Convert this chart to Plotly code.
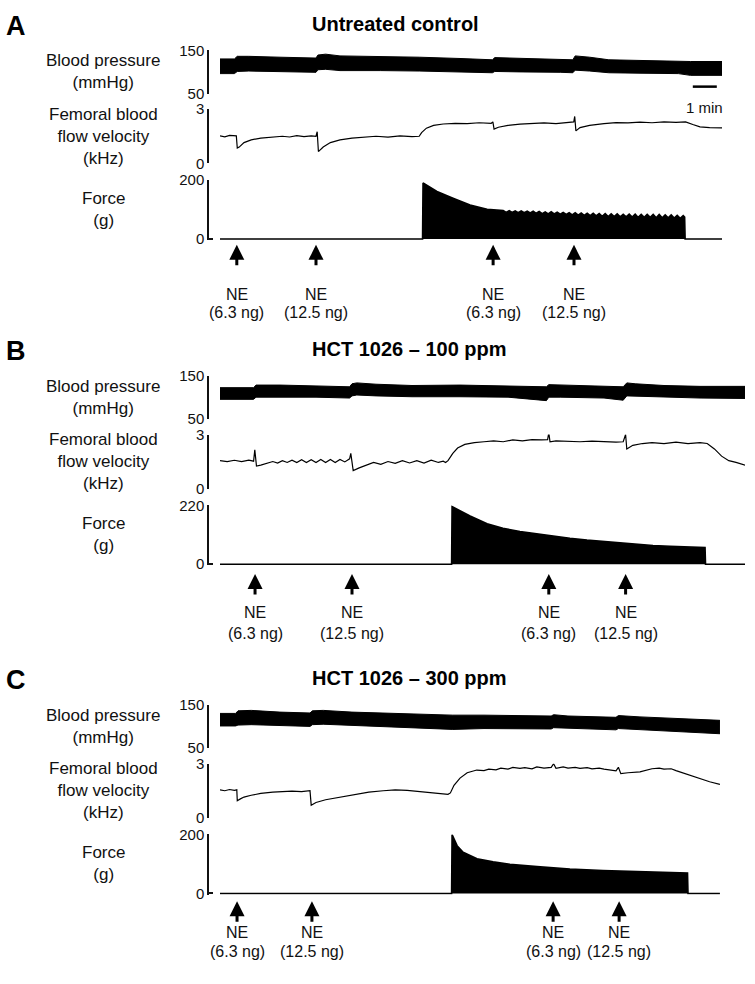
"""
Recorded traces: blood pressure, femoral blood flow velocity and force
three panels (A, B, C), time in minutes
"""
import plotly.graph_objects as go

# ---------------- Panel A: untreated control ----------------
a_bp_t = [0, 0.6, 0.72, 1.2, 2.5, 4.0, 4.08, 4.4, 5.0, 6.7, 8.3, 10.0, 11.35, 11.45,
          12.5, 14.2, 14.7, 14.8, 15.4, 16.2, 17.5, 19.1, 19.6, 20.92]
a_bp_hi = [130, 130, 136, 136, 134, 132, 139, 141, 137, 136, 134, 131, 128, 133,
           131, 129, 128, 137, 134, 128, 126, 125, 124, 124]
a_bp_lo = [96, 96, 101, 102, 101, 99, 105, 106, 103, 103, 102, 100, 98, 101,
           100, 99, 98, 104, 102, 98, 97, 96, 92, 92]

a_fbf_t = [0, 0.2, 0.4, 0.6, 0.68, 0.72, 0.8, 1.0, 1.3, 1.7, 2.2, 2.6, 2.9, 3.2, 3.5, 3.8,
           4.0, 4.05, 4.1, 4.3, 4.6, 5.0, 5.5, 6.0, 6.5, 7.0, 7.5, 8.0, 8.3,
           8.4, 8.6, 8.9, 9.3, 9.8, 10.3, 10.8, 11.3, 11.37, 11.42, 11.6, 12.0, 12.5,
           13.0, 13.5, 14.0, 14.5, 14.74, 14.78, 14.83, 15.0, 15.4, 16.0, 16.5, 17.0,
           17.5, 18.0, 18.5, 19.0, 19.4, 19.7, 20.0, 20.4, 20.92]
a_fbf = [1.52, 1.47, 1.55, 1.5, 1.52, 0.85, 0.9, 1.15, 1.3, 1.4, 1.47, 1.5, 1.46, 1.53, 1.48, 1.52,
         1.5, 1.75, 0.65, 0.9, 1.15, 1.3, 1.4, 1.47, 1.5, 1.45, 1.52, 1.48, 1.5,
         1.7, 1.95, 2.1, 2.18, 2.22, 2.2, 2.25, 2.22, 2.3, 1.9, 2.0, 2.1, 2.17,
         2.2, 2.24, 2.2, 2.27, 2.3, 2.6, 1.8, 1.98, 2.1, 2.2, 2.26, 2.24,
         2.28, 2.25, 2.3, 2.27, 2.3, 2.15, 2.02, 1.98, 1.97]

a_force_t = [0, 8.44, 8.46, 9.04, 9.71, 10.42, 11.13, 11.5,
             11.8, 11.925, 12.05, 12.175, 12.3, 12.425, 12.55, 12.675, 12.8, 12.925,
             13.05, 13.175, 13.3, 13.425, 13.55, 13.675, 13.8, 13.925, 14.05, 14.175,
             14.3, 14.425, 14.55, 14.675, 14.8, 14.925, 15.05, 15.175, 15.3, 15.425,
             15.55, 15.675, 15.8, 15.925, 16.05, 16.175, 16.3, 16.425, 16.55, 16.675,
             16.8, 16.925, 17.05, 17.175, 17.3, 17.425, 17.55, 17.675, 17.8, 17.925,
             18.05, 18.175, 18.3, 18.425, 18.55, 18.675, 18.8, 18.925, 19.05, 19.175,
             19.3, 19.36, 19.38, 20.92]
a_force = [0, 0, 190, 161, 138, 115, 101, 97,
           96, 90, 96, 90, 95, 89, 95, 89, 94, 88,
           94, 87, 93, 86, 92, 85, 92, 85, 91, 84,
           90, 83, 89, 82, 89, 81, 88, 80, 87, 79,
           87, 78, 86, 77, 86, 76, 85, 76, 85, 75,
           84, 75, 84, 74, 84, 73, 83, 73, 83, 73,
           83, 72, 83, 72, 82, 72, 82, 71, 80, 70,
           79, 74, 0, 0]

a_ne_t = [0.7, 4.0, 11.38, 14.75]

# ---------------- Panel B: HCT 1026 - 100 ppm ----------------
b_bp_t = [0, 1.4, 1.5, 2.5, 4.0, 5.4, 5.5, 5.7, 6.5, 8.0, 10.0, 12.0, 13.6, 13.7,
          14.2, 16.0, 16.8, 16.95, 17.3, 18.5, 20.0, 21.88]
b_bp_hi = [122, 122, 128, 128, 126, 124, 131, 133, 130, 127, 128, 126, 124, 129,
           128, 125, 124, 133, 131, 127, 125, 125]
b_bp_lo = [95, 95, 100, 101, 100, 98, 103, 105, 103, 101, 101, 100, 92, 100,
           100, 98, 93, 103, 102, 100, 98, 97]

b_fbf_t = [0, 0.3, 0.6, 0.9, 1.2, 1.4, 1.45, 1.52, 1.7, 2.0, 2.2, 2.4, 2.6, 2.8, 3.0,
           3.2, 3.4, 3.6, 3.8, 4.0, 4.2, 4.4, 4.6, 4.8, 5.0, 5.2, 5.4, 5.45, 5.55,
           5.8, 6.1, 6.4, 6.7, 7.0, 7.3, 7.6, 7.9, 8.2, 8.5, 8.8, 9.1, 9.3, 9.4,
           9.5, 9.7, 9.9, 10.2, 10.6, 11.0, 11.4, 11.8, 12.2, 12.6, 13.0, 13.4, 13.65,
           13.7, 13.75, 14.0, 14.5, 15.0, 15.5, 16.0, 16.5, 16.8, 16.9, 16.95, 17.2,
           17.6, 18.0, 18.5, 19.0, 19.5, 20.0, 20.3, 20.6, 20.9, 21.2, 21.5, 21.88]
b_fbf = [1.55, 1.5, 1.57, 1.5, 1.58, 1.52, 2.15, 1.25, 1.3, 1.4, 1.5, 1.42, 1.55, 1.45, 1.58,
         1.45, 1.6, 1.45, 1.6, 1.45, 1.62, 1.45, 1.62, 1.45, 1.62, 1.48, 1.65, 1.95, 1.0,
         1.15, 1.3, 1.45, 1.35, 1.5, 1.4, 1.55, 1.42, 1.55, 1.42, 1.58, 1.45, 1.52, 1.45,
         1.55, 1.95, 2.25, 2.45, 2.55, 2.6, 2.65, 2.6, 2.7, 2.65, 2.72, 2.7, 2.72,
         3.1, 2.6, 2.65, 2.62, 2.6, 2.63, 2.6, 2.58, 2.6, 3.0, 2.2, 2.4,
         2.5, 2.55, 2.5, 2.58, 2.5, 2.55, 2.5, 2.2, 1.8, 1.55, 1.45, 1.3]

b_force_t = [0, 9.65, 9.67, 10.42, 11.13, 11.79, 12.5, 13.21, 13.88, 14.58, 15.29,
             15.96, 16.67, 17.38, 18.04, 18.75, 19.46, 20.21, 20.23, 21.88]
b_force = [0, 0, 215, 180, 151, 134, 122, 113, 105, 97, 90,
           85, 80, 73, 70, 67, 64, 62, 0, 0]

b_ne_t = [1.46, 5.5, 13.7, 16.9]

# ---------------- Panel C: HCT 1026 - 300 ppm ----------------
c_bp_t = [0, 0.65, 0.75, 1.3, 2.5, 3.75, 3.85, 4.3, 5.5, 7.0, 9.7, 11.0, 13.8, 13.9,
          14.5, 16.5, 16.6, 17.5, 19.0, 20.83]
c_bp_hi = [130, 130, 136, 137, 133, 131, 136, 137, 133, 130, 126, 126, 124, 127,
           124, 121, 125, 122, 118, 114]
c_bp_lo = [101, 101, 103, 104, 102, 100, 104, 105, 102, 99, 93, 95, 94, 97,
           95, 92, 95, 92, 88, 83]

c_fbf_t = [0, 0.2, 0.4, 0.6, 0.7, 0.72, 0.85, 1.0, 1.3, 1.7, 2.2, 2.6, 3.0, 3.4, 3.75,
           3.8, 4.0, 4.4, 5.0, 5.6, 6.2, 6.8, 7.3, 7.8, 8.3, 8.8, 9.2, 9.5, 9.6, 9.75,
           10.0, 10.3, 10.7, 11.0, 11.2, 11.5, 11.7, 12.0, 12.2, 12.5, 12.7, 13.0, 13.2,
           13.5, 13.8, 13.9, 14.0, 14.3, 14.5, 14.8, 15.0, 15.3, 15.5, 15.8, 16.0, 16.3,
           16.5, 16.6, 16.7, 17.0, 17.5, 18.0, 18.3, 18.5, 18.8, 19.0, 19.5,
           20.0, 20.4, 20.83]
c_fbf = [1.55, 1.5, 1.57, 1.52, 1.55, 0.95, 1.05, 1.15, 1.25, 1.35, 1.42, 1.45, 1.48, 1.45, 1.5,
         0.7, 0.85, 1.0, 1.15, 1.3, 1.42, 1.5, 1.55, 1.52, 1.45, 1.4, 1.35, 1.3, 1.38, 1.8,
         2.2, 2.5, 2.65, 2.62, 2.7, 2.66, 2.75, 2.7, 2.8, 2.74, 2.78, 2.72, 2.82,
         2.76, 2.8, 3.0, 2.75, 2.82, 2.76, 2.8, 2.74, 2.78, 2.72, 2.76, 2.7, 2.66,
         2.6, 2.8, 2.45, 2.5, 2.55, 2.72, 2.76, 2.7, 2.72, 2.62, 2.4,
         2.15, 2.0, 1.85]

c_force_t = [0, 9.65, 9.67, 9.88, 10.13, 10.71, 11.38, 12.08, 13.21, 14.58, 15.96,
             17.38, 18.75, 19.48, 19.5, 20.83]
c_force = [0, 0, 200, 162, 140, 118, 107, 99, 91, 83, 78, 74, 71, 69, 0, 0]

c_ne_t = [0.71, 3.83, 13.88, 16.63]

ne_doses = ['(6.3 ng)', '(12.5 ng)', '(6.3 ng)', '(12.5 ng)']

# layout per panel: base = pixel row of the force baseline,
# ne_off = (arrow tip, arrow tail, "NE", dose) offsets below the baseline
panels = [
    dict(letter='A', title='Untreated control', base=234, end=722, force_max=200,
         ne_off=(6, 28, 46, 64),
         bp=(a_bp_t, a_bp_hi, a_bp_lo), fbf=(a_fbf_t, a_fbf), force=(a_force_t, a_force),
         ne=a_ne_t),
    dict(letter='B', title='HCT 1026 – 100 ppm', base=565, end=745, force_max=220,
         ne_off=(10, 32, 49, 70),
         bp=(b_bp_t, b_bp_hi, b_bp_lo), fbf=(b_fbf_t, b_fbf), force=(b_force_t, b_force),
         ne=b_ne_t),
    dict(letter='C', title='HCT 1026 – 300 ppm', base=900, end=720, force_max=200,
         ne_off=(8, 30, 50, 70),
         bp=(c_bp_t, c_bp_hi, c_bp_lo), fbf=(c_fbf_t, c_fbf), force=(c_force_t, c_force),
         ne=c_ne_t),
]

W, H = 755, 984
FONT = 'Arial, Liberation Sans, sans-serif'
INK = '#111111'
X0 = 220        # pixel where traces start
PX_PER_MIN = 24
AXIS_X = 208    # pixel of the bracket line


def py(p):
    return 1 - p / H


fig = go.Figure()
layout = dict(width=W, height=H, margin=dict(l=0, r=0, t=0, b=0),
              paper_bgcolor='white', plot_bgcolor='white', showlegend=False,
              font=dict(family=FONT, color=INK))
annotations = []
shapes = []

for i, p in enumerate(panels):
    b = p['base']
    span = (p['end'] - X0) / PX_PER_MIN
    fmax = p['force_max']
    # (top px, bottom px, range, tick values, tick text, label)
    rows = [
        (b - 192, b - 148, [50, 150], [50, 150], ['50', '150'], 'Blood pressure<br>(mmHg)'),
        (b - 132, b - 77, [0, 3], [0, 3], ['0', '3'], 'Femoral blood<br>flow velocity<br>(kHz)'),
        (b - 60, b + 1.2, [-1.2 * fmax / 60, fmax], [0, fmax], ['0', str(fmax)], 'Force<br>(g)'),
    ]
    for j, (top, bot, rng, tv, tt, label) in enumerate(rows):
        k = 3 * i + j + 1
        sfx = '' if k == 1 else str(k)
        layout['xaxis' + sfx] = dict(domain=[X0 / W, p['end'] / W], range=[0, span],
                                     visible=False, anchor='y' + sfx, fixedrange=True)
        layout['yaxis' + sfx] = dict(domain=[py(bot), py(top)], range=rng, anchor='free',
                                     position=AXIS_X / W, showline=True, linecolor=INK,
                                     linewidth=1.5, ticks='inside', ticklen=4, tickwidth=1.5,
                                     tickcolor=INK, tickvals=tv, ticktext=tt,
                                     tickfont=dict(size=15, color=INK), showgrid=False,
                                     zeroline=False, fixedrange=True)
        annotations.append(dict(text=label, xref='paper', yref='paper', x=103 / W,
                                y=py((top + min(bot, b)) / 2), showarrow=False,
                                xanchor='center', yanchor='middle', align='center',
                                font=dict(size=17, color=INK)))

    k1 = 3 * i + 1
    s1 = '' if k1 == 1 else str(k1)
    s2, s3 = str(k1 + 1), str(k1 + 2)

    # blood pressure: pulsatile band between diastolic and systolic envelopes
    t, hi, lo = p['bp']
    fig.add_trace(go.Scatter(x=t + t[::-1], y=hi + lo[::-1], fill='toself', fillcolor='black',
                             line=dict(color='black', width=1), mode='lines',
                             xaxis='x' + s1, yaxis='y' + s1, hoverinfo='skip'))
    # femoral blood flow velocity
    t, v = p['fbf']
    fig.add_trace(go.Scatter(x=t, y=v, mode='lines', line=dict(color='black', width=1.2),
                             xaxis='x' + s2, yaxis='y' + s2, hoverinfo='skip'))
    # force
    t, v = p['force']
    fig.add_trace(go.Scatter(x=t, y=v, mode='lines', fill='tozeroy', fillcolor='black',
                             line=dict(color='black', width=1.6),
                             xaxis='x' + s3, yaxis='y' + s3, hoverinfo='skip'))

    # NE injections
    tip, tail, ne_y, dose_y = p['ne_off']
    for t_ne, dose in zip(p['ne'], ne_doses):
        annotations.append(dict(x=t_ne, y=py(b + tip), xref='x' + s3, yref='paper', text='',
                                showarrow=True, ax=0, ay=tail - tip, arrowhead=2, arrowsize=1,
                                arrowwidth=3, arrowcolor='black'))
        annotations.append(dict(x=t_ne, y=py(b + ne_y), xref='x' + s3, yref='paper', text='NE',
                                showarrow=False, font=dict(size=16, color=INK)))
        annotations.append(dict(x=t_ne, y=py(b + dose_y), xref='x' + s3, yref='paper',
                                text=dose, showarrow=False, font=dict(size=16, color=INK)))

    # panel letter and title
    annotations.append(dict(text='<b>%s</b>' % p['letter'], xref='paper', yref='paper',
                            x=4 / W, y=py(b - 217), xanchor='left', yanchor='middle',
                            showarrow=False, font=dict(size=27, color='black')))
    annotations.append(dict(text='<b>%s</b>' % p['title'], xref='paper', yref='paper',
                            x=310 / W, y=py(b - 219), xanchor='left', yanchor='middle',
                            showarrow=False, font=dict(size=20, color='black')))

# 1 min scale bar (panel A)
shapes.append(dict(type='line', xref='x', yref='paper', x0=19.7, x1=20.7,
                   y0=py(79), y1=py(79), line=dict(color='black', width=2.5)))
annotations.append(dict(text='1 min', xref='x', yref='paper', x=20.2, y=py(90),
                        showarrow=False, font=dict(size=15, color=INK)))

layout['annotations'] = annotations
layout['shapes'] = shapes
fig.update_layout(**layout)

# page body margin would push the fixed-size figure off by 8 px
fig.write_html("out.html", config={'displayModeBar': False},
               post_script="document.body.style.margin='0';")
